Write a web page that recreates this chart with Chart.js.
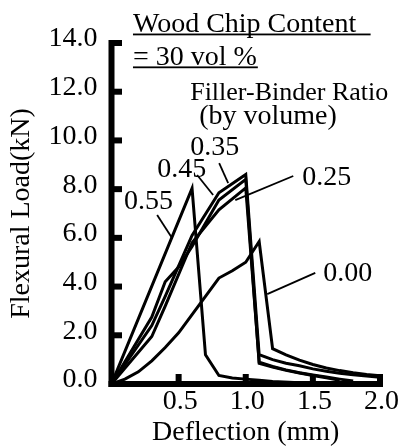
<!DOCTYPE html>
<html>
<head>
<meta charset="utf-8">
<script src="https://cdn.jsdelivr.net/npm/chart.js@4"></script>
<style>
  body { margin: 0; background: #fff; }
</style>
</head>
<body>
<canvas id="chart" width="403" height="446"></canvas>
<script>
// flexural load (kN) vs deflection (mm), one pair of arrays per filler-binder ratio
const defl000 = [0, 0.1, 0.2, 0.3, 0.4, 0.5, 0.6, 0.7, 0.8, 0.9, 1.0, 1.1, 1.2, 1.3, 1.4, 1.5, 1.6, 1.7, 1.8, 1.9, 2.0];
const load000 = [0, 0.2, 0.5, 0.95, 1.5, 2.1, 2.85, 3.6, 4.35, 4.65, 5.0, 5.85, 1.45, 1.2, 0.98, 0.8, 0.66, 0.55, 0.46, 0.39, 0.34];

const defl025 = [0, 0.3, 0.4, 0.6, 0.8, 1.0, 1.1, 1.2, 1.3, 1.4, 1.5, 1.6, 1.7, 1.8];
const load025 = [0, 1.95, 3.2, 5.8, 7.15, 8.05, 0.9, 0.72, 0.58, 0.46, 0.37, 0.29, 0.2, 0.12];

const defl035 = [0, 0.3, 0.4, 0.6, 0.8, 1.0, 1.1, 1.2, 1.3, 1.4, 1.5, 1.6, 1.7, 1.8, 1.9, 2.0];
const load035 = [0, 2.4, 3.6, 6.1, 7.85, 8.6, 1.2, 1.0, 0.85, 0.75, 0.62, 0.52, 0.44, 0.38, 0.33, 0.28];

const defl045 = [0, 0.3, 0.4, 0.5, 0.6, 0.8, 1.0, 1.1, 1.2, 1.3, 1.4, 1.5, 1.6, 1.7];
const load045 = [0, 2.75, 4.2, 4.8, 5.65, 7.55, 8.4, 0.85, 0.7, 0.56, 0.45, 0.35, 0.26, 0.15];

const defl055 = [0, 0.6, 0.7, 0.8, 0.9, 1.0, 1.1, 1.2, 1.4, 2.0];
const load055 = [0, 8.03, 1.2, 0.35, 0.25, 0.2, 0.15, 0.1, 0.05, 0.0];

const xTicks = [0.5, 1.0, 1.5, 2.0];
const yTicks = [2, 4, 6, 8, 10, 12, 14];

// leader lines from the ratio labels to their curves (data units)
const leader055 = [[0.34, 6.94], [0.451, 5.99]];
const leader045 = [[0.638, 8.58], [0.757, 7.76]];
const leader035 = [[0.802, 9.07], [0.869, 8.25]];
const leader025 = [[1.354, 8.54], [0.922, 7.55]];
const leader000 = [[1.518, 4.56], [1.16, 3.69]];

// text notes, anchored in data units (left, baseline)
const notes = [
  { text: 'Wood Chip Content', x: 0.16, y: 14.45, underline: 1.93 },
  { text: '= 30 vol %', x: 0.16, y: 13.1, underline: 1.09 },
  { text: 'Filler-Binder Ratio', x: 0.586, y: 11.66, size: 26 },
  { text: '(by volume)', x: 0.653, y: 10.67 },
  { text: '0.35', x: 0.586, y: 9.4 },
  { text: '0.45', x: 0.34, y: 8.5 },
  { text: '0.55', x: 0.093, y: 7.18 },
  { text: '0.25', x: 1.42, y: 8.17 },
  { text: '0.00', x: 1.578, y: 4.23 }
];

const serif = '"Liberation Serif", "Times New Roman", serif';

function pairs(xs, ys) {
  return xs.map((v, i) => ({ x: v, y: ys[i] }));
}

function curve(xs, ys) {
  return { data: pairs(xs, ys), borderColor: '#000', borderWidth: 3, pointRadius: 0, tension: 0, fill: false };
}

function leader(pts) {
  return { data: pts.map(p => ({ x: p[0], y: p[1] })), borderColor: '#000', borderWidth: 1.8, pointRadius: 0, fill: false };
}

// axis lines, inward ticks and the text notes
const frame = {
  id: 'frame',
  afterDatasetsDraw(chart) {
    const { ctx, scales: { x, y } } = chart;
    const x0 = x.getPixelForValue(0);
    const x2 = x.getPixelForValue(2);
    const y0 = y.getPixelForValue(0);
    const yTop = y.getPixelForValue(14);
    ctx.save();
    ctx.fillStyle = '#000';
    ctx.fillRect(x0 - 3, yTop - 3, 6, y0 - yTop + 6);
    ctx.fillRect(x0 - 3, y0 - 3, x2 - x0 + 6, 6);
    yTicks.forEach(v => {
      const p = y.getPixelForValue(v);
      ctx.fillRect(x0, p - 3, 10.5, 6);
    });
    xTicks.forEach(v => {
      const p = x.getPixelForValue(v);
      ctx.fillRect(p - 3, y0 - 10, 6, 10);
    });

    ctx.textBaseline = 'alphabetic';
    ctx.textAlign = 'left';
    notes.forEach(n => {
      ctx.font = (n.size || 28) + 'px ' + serif;
      const px = x.getPixelForValue(n.x);
      const py = y.getPixelForValue(n.y);
      ctx.fillText(n.text, px, py);
      if (n.underline) {
        ctx.fillRect(px, py + 1.5, x.getPixelForValue(n.underline) - px, 1.8);
      }
    });
    ctx.restore();
  }
};

new Chart(document.getElementById('chart'), {
  type: 'line',
  data: {
    datasets: [
      curve(defl000, load000),
      curve(defl025, load025),
      curve(defl035, load035),
      curve(defl045, load045),
      curve(defl055, load055),
      leader(leader055),
      leader(leader045),
      leader(leader035),
      leader(leader025),
      leader(leader000)
    ]
  },
  options: {
    responsive: false,
    animation: false,
    devicePixelRatio: 1,
    layout: { padding: { left: 0, right: 23, top: 43, bottom: 0 } },
    plugins: { legend: { display: false }, tooltip: { enabled: false } },
    scales: {
      x: {
        type: 'linear',
        min: 0,
        max: 2,
        border: { display: false },
        grid: { display: false, drawTicks: false },
        ticks: {
          stepSize: 0.5,
          autoSkip: false,
          maxRotation: 0,
          padding: 1,
          labelOffset: 1.5,
          color: '#000',
          font: { family: serif, size: 28 },
          callback: v => v === 0 ? '' : v.toFixed(1)
        },
        title: {
          display: true,
          text: 'Deflection (mm)',
          color: '#000',
          font: { family: serif, size: 28, lineHeight: 1 },
          padding: { top: 0, bottom: -1 }
        },
        afterFit: s => { s.height = 62; }
      },
      y: {
        min: 0,
        max: 14,
        border: { display: false },
        grid: { display: false, drawTicks: false },
        ticks: {
          stepSize: 2,
          padding: 14,
          labelOffset: -4,
          color: '#000',
          font: { family: serif, size: 28 },
          callback: v => v.toFixed(1)
        },
        title: {
          display: true,
          text: 'Flexural Load(kN)',
          color: '#000',
          font: { family: serif, size: 28 },
          padding: { top: 5, bottom: 0 }
        },
        afterFit: s => { s.width = 111.5; }
      }
    }
  },
  plugins: [frame]
});
</script>
</body>
</html>
